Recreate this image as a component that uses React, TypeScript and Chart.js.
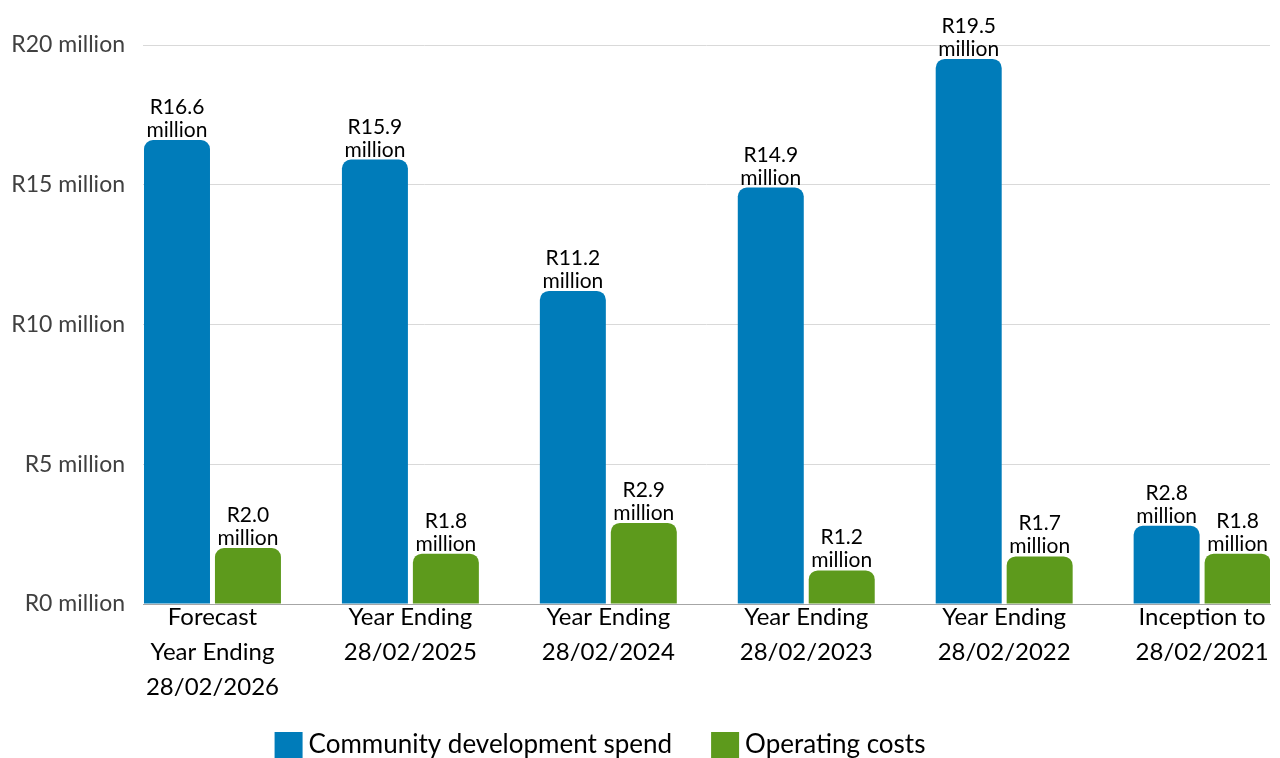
import React, { useEffect, useRef } from "react";
import { Chart, registerables } from "chart.js";

Chart.register(...registerables);

const categories: string[][] = [
  ["Forecast", "Year Ending", "28/02/2026"],
  ["Year Ending", "28/02/2025"],
  ["Year Ending", "28/02/2024"],
  ["Year Ending", "28/02/2023"],
  ["Year Ending", "28/02/2022"],
  ["Inception to", "28/02/2021"],
];
const communitySpend = [16.6, 15.9, 11.2, 14.9, 19.5, 2.8];
const operatingCosts = [2.0, 1.8, 2.9, 1.2, 1.7, 1.8];
const yTicks = [0, 5, 10, 15, 20];
const seriesNames = ["Community development spend", "Operating costs"];
const seriesColors = ["#007cba", "#5d9a1c"];

const FONT = "Lato, 'Open Sans', sans-serif";

export default function App() {
  const ref = useRef<HTMLCanvasElement | null>(null);
  useEffect(() => {
    if (!ref.current) return;
    const dataLabels = {
      id: "dataLabels",
      afterDatasetsDraw(chart: any) {
        const ctx = chart.ctx;
        ctx.save();
        ctx.font = `21px ${FONT}`;
        ctx.fillStyle = "#000";
        ctx.textAlign = "center";
        ctx.textBaseline = "alphabetic";
        chart.data.datasets.forEach((ds: any, di: number) => {
          const meta = chart.getDatasetMeta(di);
          meta.data.forEach((bar: any, i: number) => {
            const v = ds.data[i].y;
            ctx.fillText(`R${v.toFixed(1)}`, bar.x, bar.y - 26);
            ctx.fillText("million", bar.x, bar.y - 3);
          });
        });
        ctx.restore();
      },
    };
    const customLegend = {
      id: "customLegend",
      afterDraw(chart: any) {
        const ctx = chart.ctx;
        ctx.save();
        ctx.font = `26px ${FONT}`;
        const box = 28, boxH = 26, gapText = 6, gapItem = 39;
        const widths = seriesNames.map((n) => box + gapText + ctx.measureText(n).width);
        const total = widths.reduce((a, b) => a + b, 0) + gapItem * (seriesNames.length - 1);
        let x = 600 - total / 2;
        const cy = 745;
        seriesNames.forEach((n, i) => {
          ctx.fillStyle = seriesColors[i];
          ctx.fillRect(x, cy - boxH / 2, box, boxH);
          ctx.fillStyle = "#000";
          ctx.textAlign = "left";
          ctx.textBaseline = "middle";
          ctx.fillText(n, x + box + gapText, cy);
          x += widths[i] + gapItem;
        });
        ctx.restore();
      },
    };
    const chart = new Chart(ref.current, {
      type: "bar",
      data: {
        datasets: [
          {
            label: seriesNames[0],
            data: communitySpend.map((v, i) => ({ x: i, y: v })),
            backgroundColor: seriesColors[0],
            borderRadius: 9,
            borderSkipped: "bottom",
            categoryPercentage: 0.717,
            barPercentage: 0.93,
          },
          {
            label: seriesNames[1],
            data: operatingCosts.map((v, i) => ({ x: i, y: v })),
            backgroundColor: seriesColors[1],
            borderRadius: 9,
            borderSkipped: "bottom",
            categoryPercentage: 0.717,
            barPercentage: 0.93,
          },
        ],
      },
      options: {
        animation: false,
        responsive: false,
        maintainAspectRatio: false,
        layout: { padding: { top: 45, right: 10, left: 0, bottom: 54 } },
        plugins: { legend: { display: false }, tooltip: { enabled: false } },
        scales: {
          x: {
            type: "linear",
            offset: false,
            min: -0.351,
            max: 5.343,
            grid: { display: false, drawTicks: false, offset: false },
            border: { display: true, color: "#a6a6a6", width: 1 },
            afterBuildTicks: (scale: any) => {
              scale.ticks = categories.map((_, i) => ({ value: i }));
            },
            afterFit: (scale: any) => {
              scale.height = 100;
              scale.paddingLeft = 0;
              scale.paddingRight = 0;
            },
            ticks: {
              autoSkip: false,
              maxRotation: 0,
              padding: -4,
              color: "#000",
              font: { family: FONT, size: 24, lineHeight: 1.45 },
              callback: (v: any) => categories[Math.round(Number(v))] ?? "",
            },
          },
          y: {
            min: 0,
            max: 20,
            afterBuildTicks: (scale: any) => {
              scale.ticks = yTicks.map((v) => ({ value: v }));
            },
            afterFit: (scale: any) => {
              scale.width = 143;
              scale.paddingTop = 0;
              scale.paddingBottom = 0;
            },
            grid: { color: "#d9d9d9", lineWidth: 1, drawTicks: false },
            border: { display: false },
            ticks: {
              padding: 18,
              color: "#404040",
              font: { family: FONT, size: 23 },
              callback: (v: any) => `R${v} million`,
            },
          },
        },
      },
      plugins: [dataLabels, customLegend],
    } as any);
    return () => chart.destroy();
  }, []);
  return (
    <div style={{ position: "fixed", left: 0, top: 0, width: 1280, height: 758, background: "#fff" }}>
      <canvas ref={ref} width={1280} height={758} style={{ width: 1280, height: 758 }} />
    </div>
  );
}
